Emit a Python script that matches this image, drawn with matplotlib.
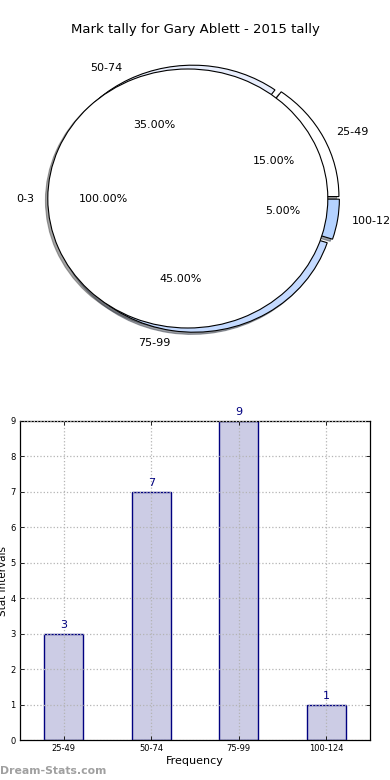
import matplotlib
matplotlib.use("Agg")
import matplotlib.pyplot as plt

# ---- data ----
title = "Mark tally for Gary Ablett - 2015 tally"
inner_labels = ["0-3"]
inner_values = [100]
outer_labels = ["25-49", "50-74", "75-99", "100-124"]
outer_values = [3, 7, 9, 1]
outer_colors = ["#FFFFFF", "#E8EEFD", "#C4DAFF", "#B4D2FF"]
bar_labels = ["25-49", "50-74", "75-99", "100-124"]
bar_values = [3, 7, 9, 1]
y_ticks = [0, 1, 2, 3, 4, 5, 6, 7, 8, 9]

plt.rcParams['font.family'] = ['DejaVu Sans']

fig = plt.figure(figsize=(3.9, 7.8), dpi=100)
W, H = 390.0, 780.0

fig.text(0.5, 1 - 30 / H, title, ha='center', va='center', fontsize=9.5)

# ---- pie ----
sx, sy = 140.0, 129.5
x0, y0 = 194.8, 198.5
lim = 1.3
axp = fig.add_axes([(x0 - lim * sx) / W, 1 - (y0 + lim * sy) / H,
                    2 * lim * sx / W, 2 * lim * sy / H])

axp.pie(outer_values, labels=outer_labels, colors=outer_colors,
        explode=[0.033] * len(outer_values), radius=1.0, startangle=0,
        autopct='%1.2f%%', shadow=dict(ox=-0.012, oy=-0.012),
        wedgeprops=dict(edgecolor='black', linewidth=0.8),
        textprops=dict(fontsize=8))
axp.pie(inner_values, labels=inner_labels, colors=["#FFFFFF"],
        explode=[0.05], radius=1.0, startangle=0,
        autopct='%1.2f%%', shadow=dict(ox=-0.012, oy=-0.012, zorder=0.5),
        wedgeprops=dict(edgecolor='black', linewidth=0.8, zorder=2),
        textprops=dict(fontsize=8, zorder=3))
axp.set_aspect('auto')
axp.set_xlim(-lim, lim)
axp.set_ylim(-lim, lim)
axp.axis('off')

# ---- bar chart ----
axb = fig.add_axes([20 / W, 40 / H, 350 / W, 319 / H])
x = list(range(len(bar_values)))
axb.bar(x, bar_values, width=0.45, color=(0.0, 0.0, 0.5, 0.2),
        edgecolor='navy', linewidth=1.0)
for xi, v in zip(x, bar_values):
    axb.text(xi, v + 0.1, str(v), ha='center', va='bottom',
             color='navy', fontsize=8)
axb.set_xlim(-0.5, len(bar_values) - 0.5)
axb.set_ylim(0, 9)
axb.set_xticks(x)
axb.set_xticklabels(bar_labels, fontsize=6)
axb.set_yticks(y_ticks)
axb.set_yticklabels([str(t) for t in y_ticks], fontsize=6)
axb.tick_params(direction='in', top=True, right=True, length=3, width=0.6, pad=3)
axb.set_axisbelow(False)
axb.grid(True, linestyle=':', color='#b4b4b4', linewidth=0.9)
axb.set_xlabel("Frequency", fontsize=8, labelpad=2)
axb.set_ylabel("Stat Intervals", fontsize=7.5, labelpad=2)
for s in axb.spines.values():
    s.set_linewidth(0.9)

fig.text(0.0, 1 - 771 / H, "Dream-Stats.com", ha='left', va='center',
         fontsize=7.8, color='#a0a0a0', fontweight='bold')

fig.savefig("out.png", dpi=100, facecolor='white')
